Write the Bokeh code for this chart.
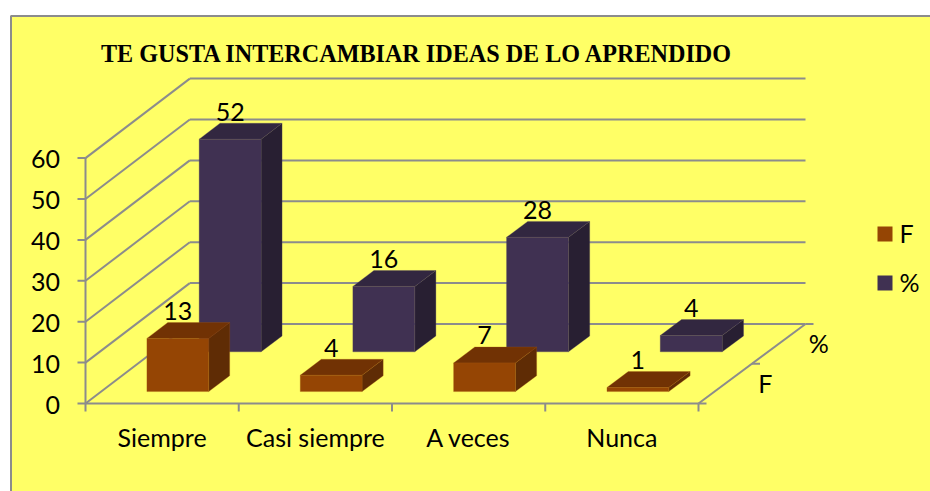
from bokeh.plotting import figure
from bokeh.models import Range1d
from bokeh.core.properties import value
from bokeh.embed import file_html
from bokeh.resources import INLINE

TITLE = "TE GUSTA INTERCAMBIAR IDEAS DE LO APRENDIDO"
categories = ["Siempre", "Casi siempre", "A veces", "Nunca"]
series_names = ["F", "%"]
f_values = [13, 4, 7, 1]
pct_values = [52, 16, 28, 4]
y_ticks = [0, 10, 20, 30, 40, 50, 60]

# Oblique projection of the 3D chart box onto the page (page pixels)
X0, Y0 = 85.0, 403.0     # front-left floor corner
CAT_W = 153.25           # width of a category
UNIT = 4.09              # pixels per value unit
DEPTH_X, DEPTH_Y = 104.3, 79.5
DEPTH_SPREAD = 0.675     # the back wall is slightly wider than the front edge
BAR_W, BAR_D = 0.403, 0.2
DEPTH_CENTERS = [0.25, 0.75]

def proj(c, d, v):
    return X0 + c * CAT_W + d * (DEPTH_X + c * DEPTH_SPREAD), Y0 - d * DEPTH_Y - v * UNIT

GRID = "#8c8c8c"
YELLOW = "#ffff66"
FONT = value("Lato")
SIZE = "25px"
SERIF = value("Liberation Serif")
STYLES = {
    "F": dict(front="#954504", top="#713204", side="#5f2c05", edge="#a3560f"),
    "%": dict(front="#403152", top="#322740", side="#281f32", edge="#544565"),
}

p = figure(width=930, height=491, output_backend="svg", toolbar_location=None,
           x_range=Range1d(0, 930), y_range=Range1d(491, 0),
           min_border=0, outline_line_color=None)
p.axis.visible = False
p.grid.visible = False
p.background_fill_color = "white"
p.border_fill_color = "white"

# Background panel and its frame
p.quad(left=[10], right=[931], top=[15], bottom=[492], fill_color=YELLOW,
       line_color=None)
p.line([10.5, 10.5, 931], [492, 15.5, 15.5], line_color="#8c8c8c", line_width=2)

def seg(a, b, w=2):
    p.line([a[0], b[0]], [a[1], b[1]], line_color=GRID, line_width=w)

# Walls: value gridlines
top_v = y_ticks[-1]
for t in y_ticks:
    seg(proj(0, 0, t), proj(0, 1, t))
    seg(proj(0, 1, t), proj(len(categories), 1, t))
    tx, ty = proj(0, 0, t)
    seg((tx - 8, ty), (tx, ty))
    p.text([tx - 25.5], [ty + 1], text=[str(t)], text_font=FONT, text_font_size=SIZE,
           text_align="right", text_baseline="middle", text_color="black")
seg(proj(0, 0, 0), proj(0, 0, top_v))

# Floor edges and ticks
seg(proj(0, 0, 0), proj(len(categories), 0, 0))
n = len(categories)
seg(proj(n, 0, 0), proj(n, 1, 0))
for c in range(n + 1):
    tx, ty = proj(c, 0, 0)
    seg((tx, ty), (tx, ty + 8))
for d in (0, 0.5, 1):
    tx, ty = proj(n, d, 0)
    seg((tx, ty), (tx + 8, ty))

def bar(c, s_i, v):
    st = STYLES[series_names[s_i]]
    cx = c + 0.5
    l, r = cx - BAR_W / 2, cx + BAR_W / 2
    d0 = DEPTH_CENTERS[s_i] - BAR_D / 2
    d1 = DEPTH_CENTERS[s_i] + BAR_D / 2
    faces = [
        ([(r, d0, 0), (r, d1, 0), (r, d1, v), (r, d0, v)], st["side"]),
        ([(l, d0, v), (r, d0, v), (r, d1, v), (l, d1, v)], st["top"]),
        ([(l, d0, 0), (r, d0, 0), (r, d0, v), (l, d0, v)], st["front"]),
    ]
    for pts, col in faces:
        xy = [proj(*q) for q in pts]
        p.patch([a for a, _ in xy], [b for _, b in xy], fill_color=col,
                line_color=st["edge"], line_width=1, line_alpha=0.3)
    lx, ly = proj(cx, d0, v)
    p.text([lx], [ly - 27.5], text=[str(v)], text_font=FONT, text_font_size=SIZE,
           text_align="center", text_baseline="middle", text_color="black")

# Back series first, then front series
for c, v in enumerate(pct_values):
    bar(c, 1, v)
for c, v in enumerate(f_values):
    bar(c, 0, v)

# Category labels
for c, name in enumerate(categories):
    lx, ly = proj(c + 0.5, 0, 0)
    p.text([lx], [ly + 33], text=[name], text_font=FONT, text_font_size=SIZE,
           text_align="center", text_baseline="middle", text_color="black")

# Depth labels
for s_i, name in enumerate(series_names):
    lx, ly = proj(n, DEPTH_CENTERS[s_i], 0)
    p.text([lx + 40], [ly - 1], text=[name], text_font=FONT, text_font_size=SIZE,
           text_align="center", text_baseline="middle", text_color="black")

# Legend
for i, name in enumerate(series_names):
    y = 233.5 + i * 49
    p.quad(left=[877], right=[892], top=[y - 7.5], bottom=[y + 7.5],
           fill_color=STYLES[name]["front"], line_color=None)
    p.text([899], [y - 1], text=[name], text_font=FONT, text_font_size=SIZE,
           text_align="left", text_baseline="middle", text_color="black")

# Title
p.text([100.5], [52.5], text=[TITLE], text_font=SERIF, text_font_size="24.15px",
       text_font_style="bold", text_align="left", text_baseline="middle", text_color="black")

open("out.html", "w").write(file_html(p, INLINE))
